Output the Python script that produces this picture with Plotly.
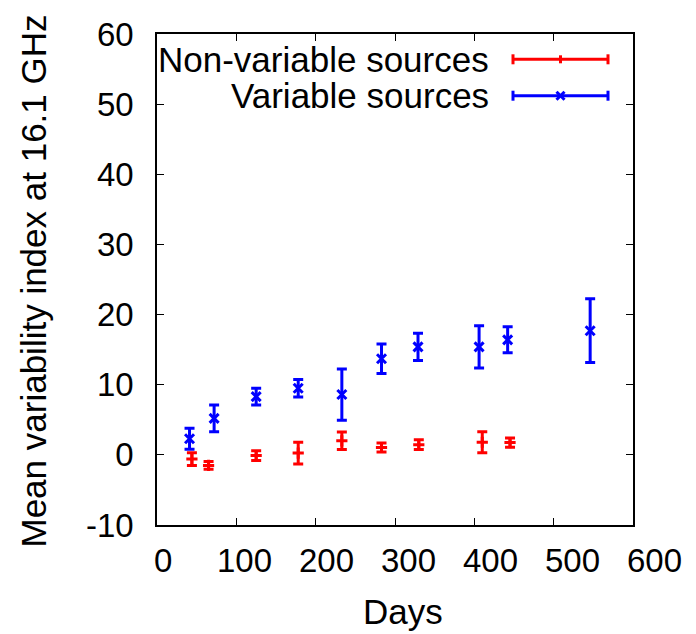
import plotly.graph_objects as go

# ---- data ----
red_days = [44, 65, 125, 178, 233, 283, 330, 410, 445]
red_vals = [-0.6, -1.5, -0.1, 0.25, 2.0, 1.05, 1.45, 1.8, 1.75]
red_err = [0.9, 0.55, 0.7, 1.55, 1.25, 0.65, 0.7, 1.5, 0.65]

blue_days = [41, 72, 125, 178, 233, 283, 329, 406, 442, 546]
blue_vals = [2.3, 5.2, 8.3, 9.5, 8.6, 13.7, 15.4, 15.4, 16.4, 17.7]
blue_err = [1.5, 1.9, 1.2, 1.25, 3.65, 2.1, 1.95, 3.0, 1.85, 4.55]

x_ticks = [0, 100, 200, 300, 400, 500, 600]
y_ticks = [-10, 0, 10, 20, 30, 40, 50, 60]

series_names = ["Non-variable sources", "Variable sources"]
x_title = "Days"
y_title = "Mean variability index at 16.1 GHz"

RED = "#ff0000"
BLUE = "#0000ff"
FONT = "Liberation Sans, Arial, Helvetica, sans-serif"
FS_TEXT = 35
FS_TICK = 33

fig = go.Figure()
fig.add_trace(go.Scatter(
    x=red_days, y=red_vals, mode="markers", name=series_names[0],
    marker=dict(symbol="cross-thin", size=8, line=dict(color=RED, width=3), color=RED),
    error_y=dict(type="data", array=red_err, visible=True, color=RED, thickness=3, width=5),
    showlegend=False,
))
fig.add_trace(go.Scatter(
    x=blue_days, y=blue_vals, mode="markers", name=series_names[1],
    marker=dict(symbol="x-thin", size=9, line=dict(color=BLUE, width=3), color=BLUE),
    error_y=dict(type="data", array=blue_err, visible=True, color=BLUE, thickness=3, width=5),
    showlegend=False,
))

# plot area in px
L, R, T, B = 157, 633, 34, 525
W, H = R - L, B - T

def px_x(p):
    return (p - L) / W

def px_y(p):
    return (B - p) / H

# manual gnuplot-style legend (text on left, sample on right)
rows = [(59.3, RED, "plus"), (95.7, BLUE, "x")]
for (py, col, kind), name in zip(rows, series_names):
    yy = px_y(py)
    fig.add_annotation(x=px_x(491), y=yy, xref="paper", yref="paper", text=name,
                       showarrow=False, xanchor="right", yanchor="middle",
                       font=dict(family=FONT, size=FS_TEXT, color="black"))
    x0, x1 = px_x(513), px_x(608)
    fig.add_shape(type="line", xref="paper", yref="paper", x0=x0, x1=x1, y0=yy, y1=yy,
                  line=dict(color=col, width=3))
    dy = 5 / H
    for xc in (x0, x1):
        fig.add_shape(type="line", xref="paper", yref="paper", x0=xc, x1=xc, y0=yy - dy, y1=yy + dy,
                      line=dict(color=col, width=3))
    xm = px_x(560.5)
    if kind == "plus":
        fig.add_shape(type="line", xref="paper", yref="paper", x0=xm, x1=xm, y0=yy - 4 / H, y1=yy + 4 / H,
                      line=dict(color=col, width=3))
    else:
        d = 4
        fig.add_shape(type="line", xref="paper", yref="paper", x0=xm - d / W, x1=xm + d / W,
                      y0=yy - d / H, y1=yy + d / H, line=dict(color=col, width=3))
        fig.add_shape(type="line", xref="paper", yref="paper", x0=xm - d / W, x1=xm + d / W,
                      y0=yy + d / H, y1=yy - d / H, line=dict(color=col, width=3))

# x tick labels (gnuplot places them slightly spread to the right)
for i, v in enumerate(x_ticks):
    fig.add_annotation(x=v, y=0, xref="x", yref="paper", text=str(v), showarrow=False,
                       xanchor="center", yanchor="middle", xshift=6 + 2.6 * i, yshift=-35,
                       font=dict(family=FONT, size=FS_TICK, color="black"))

# axis titles
fig.add_annotation(x=px_x(403), y=px_y(611), xref="paper", yref="paper", text=x_title,
                   showarrow=False, xanchor="center", yanchor="middle",
                   font=dict(family=FONT, size=FS_TEXT, color="black"))
fig.add_annotation(x=px_x(33), y=px_y(281.5), xref="paper", yref="paper", text=y_title,
                   showarrow=False, xanchor="center", yanchor="middle", textangle=-90,
                   font=dict(family=FONT, size=FS_TEXT, color="black"))

axis_common = dict(showgrid=False, zeroline=False, showline=True, linecolor="black", linewidth=1.5,
                   mirror="ticks", ticks="inside", ticklen=7, tickwidth=1, tickcolor="black")

fig.update_xaxes(range=[0, 600], tickvals=x_ticks, showticklabels=False, **axis_common)
fig.update_yaxes(range=[-10, 60], tickvals=y_ticks, ticktext=[str(v) for v in y_ticks],
                 tickfont=dict(family=FONT, size=FS_TICK, color="black"), ticklabelstandoff=15,
                 **axis_common)

fig.update_layout(width=696, height=634, margin=dict(l=L, r=696 - R, t=T, b=634 - B, autoexpand=False),
                  plot_bgcolor="white", paper_bgcolor="white", showlegend=False,
                  font=dict(family=FONT, size=FS_TICK, color="black"))

fig.write_html("out.html")
